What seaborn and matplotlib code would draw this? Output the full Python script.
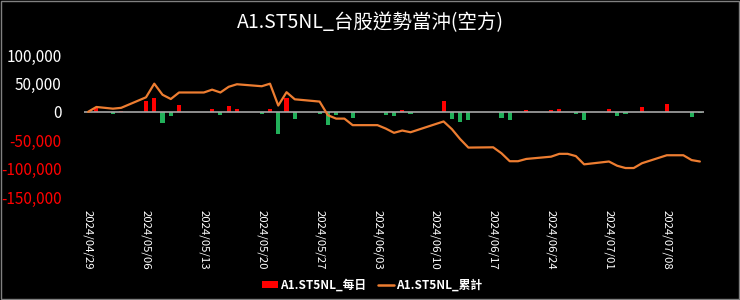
import matplotlib
matplotlib.use("Agg")
import matplotlib.pyplot as plt
import matplotlib.dates as mdates
from matplotlib.patches import Patch, Rectangle
from matplotlib.lines import Line2D
import seaborn as sns
import pandas as pd
import numpy as np

# ---- data ----
dates = ["2024/04/29", "2024/04/30", "2024/05/02", "2024/05/03", "2024/05/06", "2024/05/07",
         "2024/05/08", "2024/05/09", "2024/05/10", "2024/05/13", "2024/05/14", "2024/05/15",
         "2024/05/16", "2024/05/17", "2024/05/20", "2024/05/21", "2024/05/22", "2024/05/23",
         "2024/05/24", "2024/05/27", "2024/05/28", "2024/05/29", "2024/05/30", "2024/05/31",
         "2024/06/03", "2024/06/04", "2024/06/05", "2024/06/06", "2024/06/07", "2024/06/11",
         "2024/06/12", "2024/06/13", "2024/06/14", "2024/06/17", "2024/06/18", "2024/06/19",
         "2024/06/20", "2024/06/21", "2024/06/24", "2024/06/25", "2024/06/26", "2024/06/27",
         "2024/06/28", "2024/07/01", "2024/07/02", "2024/07/03", "2024/07/04", "2024/07/05",
         "2024/07/08", "2024/07/09", "2024/07/10", "2024/07/11", "2024/07/12"]
daily = [0, 8500, -3000, 1500, 18500, 24000,
         -19500, -7500, 11500, 0, 5000, -5000,
         10000, 4500, -3500, 4500, -38500, 23500,
         -12500, -4000, -24000, -6000, 0, -11500,
         0, -6000, -7500, 4000, -3000, 19000,
         -13500, -17500, -15000, 500, -10500, -14000,
         0, 4000, 4000, 5000, 0, -4000,
         -14500, 5000, -7500, -4000, 0, 8500,
         14000, 0, 0, -8500, -2500]
cumulative = [0, 8500, 5500, 7000, 25500, 49500,
              30000, 22500, 34000, 34000, 39000, 34000,
              44000, 48500, 45000, 49500, 11000, 34500,
              22000, 18000, -6000, -12000, -12000, -23500,
              -23500, -29500, -37000, -33000, -36000, -17000,
              -30500, -48000, -63000, -62500, -73000, -87000,
              -87000, -83000, -79000, -74000, -74000, -78000,
              -92500, -87500, -95000, -99000, -99000, -90500,
              -76500, -76500, -76500, -85000, -87500]
tick_labels = ["2024/04/29", "2024/05/06", "2024/05/13", "2024/05/20", "2024/05/27", "2024/06/03",
               "2024/06/10", "2024/06/17", "2024/06/24", "2024/07/01", "2024/07/08"]
y_ticks = [100000, 50000, 0, -50000, -100000, -150000]
title = "A1.ST5NL_台股逆勢當沖(空方)"
daily_name = "A1.ST5NL_每日"
cum_name = "A1.ST5NL_累計"

# ---- styling ----
sns.set_theme(style="dark", rc={"axes.facecolor": "black", "figure.facecolor": "black"})
plt.rcParams["font.family"] = ["Noto Sans CJK TC", "DejaVu Sans"]

RED = "#ff0000"
GREEN = "#22b05a"
ORANGE = "#ed7d31"

x = mdates.date2num(pd.to_datetime(dates, format="%Y/%m/%d"))
df = pd.DataFrame({"x": x, "daily": daily, "cum": cumulative})
df["sign"] = np.where(df["daily"] >= 0, "pos", "neg")

fig = plt.figure(figsize=(7.4, 3.0), dpi=100)
ax = fig.add_axes([84 / 740, 1 - 197 / 300, (704 - 84) / 740, (197 - 55) / 300])
ax.set_facecolor("black")

sns.barplot(data=df, x="x", y="daily", hue="sign", palette={"pos": RED, "neg": GREEN},
            native_scale=True, dodge=False, width=0.5, errorbar=None, legend=False,
            ax=ax, saturation=1, linewidth=0)
ax.axhline(0, color="#a6a6a6", linewidth=1.2, zorder=2)
sns.lineplot(data=df, x="x", y="cum", color=ORANGE, linewidth=1.6, ax=ax, zorder=3)

ax.set_xlim(x[0] - 0.5, x[-1] + 0.5)
ax.set_ylim(-150000, 100000)
ax.set_yticks(y_ticks)
ax.set_yticklabels([f"{v:,}" for v in y_ticks])
for lab, v in zip(ax.get_yticklabels(), y_ticks):
    lab.set_color(RED if v < 0 else "white")
    lab.set_fontsize(11)

tick_pos = mdates.date2num(pd.to_datetime(tick_labels, format="%Y/%m/%d"))
ax.set_xticks(tick_pos)
ax.set_xticklabels(tick_labels, rotation=-90, color="white", fontsize=8.2, va="top", ha="center")
ax.tick_params(axis="x", length=0, pad=9)
ax.tick_params(axis="y", length=0, pad=16)
ax.set_xlabel("")
ax.set_ylabel("")
ax.grid(False)
for s in ax.spines.values():
    s.set_visible(False)

fig.text(0.5, 1 - 23 / 300, title, color="white", fontsize=14, ha="center", va="center")

handles = [Patch(facecolor=RED, edgecolor="none"),
           Line2D([0], [0], color=ORANGE, linewidth=1.8)]
fig.legend(handles, [daily_name, cum_name], loc="center", bbox_to_anchor=(0.503, 1 - 285 / 300),
           ncol=2, frameon=False, prop={"size": 8.5, "weight": "bold"}, labelcolor="white",
           handlelength=1.35, handleheight=0.5, handletextpad=0.2, columnspacing=1.0)

fig.patches.append(Rectangle((0.0007, 0.002), 0.9986, 0.996, transform=fig.transFigure,
                             fill=False, edgecolor="#808080", linewidth=1.0))

fig.savefig("out.png", dpi=100, facecolor="black")
